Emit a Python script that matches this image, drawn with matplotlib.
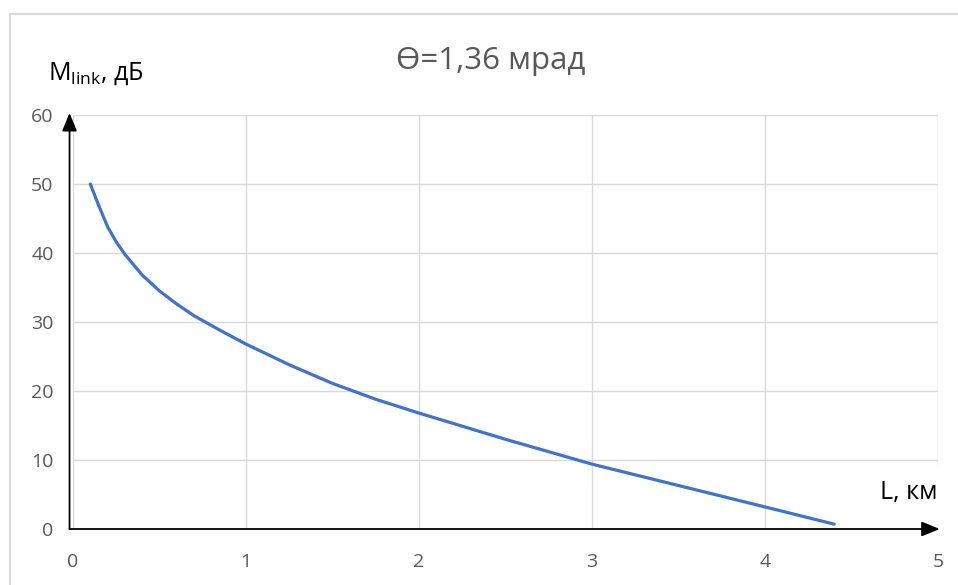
import matplotlib.pyplot as plt
from matplotlib.patches import Rectangle

# Link margin vs distance
L_km = [0.1, 0.15, 0.2, 0.25, 0.3, 0.4, 0.5, 0.6, 0.7, 0.85, 1.0, 1.25, 1.5,
        1.75, 2.0, 2.5, 3.0, 3.5, 4.0, 4.4]
M_db = [50.0, 46.8, 43.8, 41.6, 39.8, 36.8, 34.5, 32.6, 30.9, 28.8, 26.8, 23.8,
        21.1, 18.8, 16.8, 13.0, 9.4, 6.3, 3.2, 0.7]

x_ticks = [0, 1, 2, 3, 4, 5]
y_ticks = [0, 10, 20, 30, 40, 50, 60]

plt.rcParams['font.family'] = ['Open Sans', 'DejaVu Sans']

fig = plt.figure(figsize=(9.58, 5.85), dpi=100)
fig.patches.append(Rectangle((10 / 958, -0.01), 1.0, (585 - 14) / 585 + 0.01,
                             transform=fig.transFigure, fill=False,
                             edgecolor='#d9d9d9', linewidth=1.5))

ax = fig.add_axes([73 / 958, 56 / 585, 865 / 958, 414 / 585])
ax.plot(L_km, M_db, color='#4472C4', linewidth=2.3, solid_capstyle='round')

ax.set_xlim(0, 5)
ax.set_ylim(0, 60)
ax.set_xticks(x_ticks)
ax.set_yticks(y_ticks)
ax.grid(True, color='#d9d9d9', linewidth=1)
ax.set_axisbelow(True)
for s in ax.spines.values():
    s.set_visible(False)
ax.tick_params(length=0, labelsize=14, labelcolor='#595959')
ax.tick_params(axis='y', pad=14)
ax.tick_params(axis='x', pad=17)

# axis arrows
ax.annotate('', xy=(5.01, 0), xytext=(-0.02, 0), xycoords='data',
            arrowprops=dict(arrowstyle='-|>,head_length=1.1,head_width=0.45',
                            color='black', lw=1.3, shrinkA=0, shrinkB=0),
            annotation_clip=False)
ax.annotate('', xy=(-0.02, 60.3), xytext=(-0.02, 0), xycoords='data',
            arrowprops=dict(arrowstyle='-|>,head_length=1.1,head_width=0.45',
                            color='black', lw=1.3, shrinkA=0, shrinkB=0),
            annotation_clip=False)

fig.text(491 / 958, 1 - 69 / 585, 'Ө=1,36 мрад', ha='center', va='baseline',
         fontsize=22.5, color='#595959')
fig.text(48 / 958, 1 - 80 / 585, r'M$_{\mathregular{link}}$, дБ', ha='left',
         va='baseline', fontsize=18, color='black')
fig.text(880 / 958, 1 - 499 / 585, 'L, км', ha='left', va='baseline', fontsize=18,
         color='black',
         bbox=dict(facecolor='white', edgecolor='none', pad=8))

fig.savefig('out.png', dpi=100)
